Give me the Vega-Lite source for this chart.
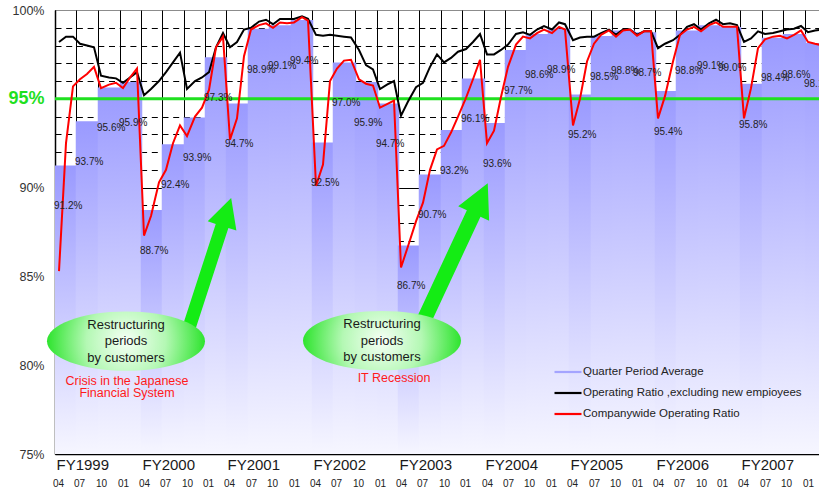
{
  "$schema": "https://vega.github.io/schema/vega-lite/v6.json",
  "width": 764,
  "height": 444,
  "autosize": {"type": "none"},
  "padding": {"left": 55, "top": 10, "right": 0, "bottom": 43},
  "background": "white",
  "config": {
    "view": {"stroke": "#8c8c8c", "strokeWidth": 1},
    "font": "Liberation Sans",
    "text": {"font": "Liberation Sans"},
    "axis": {"labelFont": "Liberation Sans"}
  },
  "datasets": {
    "quarters": [
      {"quarter": "1999-04", "average": 91.2}, {"quarter": "1999-07", "average": 93.7}, {"quarter": "1999-10", "average": 95.6}, {"quarter": "2000-01", "average": 95.9},
      {"quarter": "2000-04", "average": 88.7}, {"quarter": "2000-07", "average": 92.4}, {"quarter": "2000-10", "average": 93.9}, {"quarter": "2001-01", "average": 97.3},
      {"quarter": "2001-04", "average": 94.7}, {"quarter": "2001-07", "average": 98.9}, {"quarter": "2001-10", "average": 99.1}, {"quarter": "2002-01", "average": 99.4},
      {"quarter": "2002-04", "average": 92.5}, {"quarter": "2002-07", "average": 97.0}, {"quarter": "2002-10", "average": 95.9}, {"quarter": "2003-01", "average": 94.7},
      {"quarter": "2003-04", "average": 86.7}, {"quarter": "2003-07", "average": 90.7}, {"quarter": "2003-10", "average": 93.2}, {"quarter": "2004-01", "average": 96.1},
      {"quarter": "2004-04", "average": 93.6}, {"quarter": "2004-07", "average": 97.7}, {"quarter": "2004-10", "average": 98.6}, {"quarter": "2005-01", "average": 98.9},
      {"quarter": "2005-04", "average": 95.2}, {"quarter": "2005-07", "average": 98.5}, {"quarter": "2005-10", "average": 98.8}, {"quarter": "2006-01", "average": 98.7},
      {"quarter": "2006-04", "average": 95.4}, {"quarter": "2006-07", "average": 98.8}, {"quarter": "2006-10", "average": 99.1}, {"quarter": "2007-01", "average": 99.0},
      {"quarter": "2007-04", "average": 95.8}, {"quarter": "2007-07", "average": 98.4}, {"quarter": "2007-10", "average": 98.6}, {"quarter": "2008-01", "average": 98.1}
    ],
    "months": [
      {"month": "1999-04-16", "excluding": 98.2, "companywide": 85.3},
      {"month": "1999-05-16", "excluding": 98.5, "companywide": 92.5},
      {"month": "1999-06-16", "excluding": 98.5, "companywide": 95.7},
      {"month": "1999-07-16", "excluding": 98.1, "companywide": 96.1},
      {"month": "1999-08-16", "excluding": 98.0, "companywide": 96.4},
      {"month": "1999-09-16", "excluding": 97.9, "companywide": 96.8},
      {"month": "1999-10-16", "excluding": 96.3, "companywide": 95.6},
      {"month": "1999-11-16", "excluding": 96.2, "companywide": 95.8},
      {"month": "1999-12-16", "excluding": 96.15, "companywide": 95.9},
      {"month": "2000-01-16", "excluding": 95.9, "companywide": 95.6},
      {"month": "2000-02-15", "excluding": 96.2, "companywide": 96.2},
      {"month": "2000-03-16", "excluding": 96.5, "companywide": 96.7},
      {"month": "2000-04-16", "excluding": 95.2, "companywide": 87.3},
      {"month": "2000-05-16", "excluding": 95.55, "companywide": 88.4},
      {"month": "2000-06-16", "excluding": 96.0, "companywide": 90.3},
      {"month": "2000-07-16", "excluding": 96.5, "companywide": 91.0},
      {"month": "2000-08-16", "excluding": 97.05, "companywide": 92.5},
      {"month": "2000-09-16", "excluding": 97.6, "companywide": 93.5},
      {"month": "2000-10-16", "excluding": 95.55, "companywide": 92.9},
      {"month": "2000-11-16", "excluding": 96.0, "companywide": 94.0},
      {"month": "2000-12-16", "excluding": 96.2, "companywide": 94.5},
      {"month": "2001-01-16", "excluding": 96.5, "companywide": 95.5},
      {"month": "2001-02-15", "excluding": 97.9, "companywide": 97.9},
      {"month": "2001-03-16", "excluding": 98.7, "companywide": 98.5},
      {"month": "2001-04-16", "excluding": 97.9, "companywide": 92.7},
      {"month": "2001-05-16", "excluding": 98.2, "companywide": 93.9},
      {"month": "2001-06-16", "excluding": 98.9, "companywide": 97.4},
      {"month": "2001-07-16", "excluding": 99.0, "companywide": 98.9},
      {"month": "2001-08-16", "excluding": 99.35, "companywide": 99.15},
      {"month": "2001-09-16", "excluding": 99.45, "companywide": 99.25},
      {"month": "2001-10-16", "excluding": 99.2, "companywide": 99.0},
      {"month": "2001-11-16", "excluding": 99.5, "companywide": 99.3},
      {"month": "2001-12-16", "excluding": 99.5, "companywide": 99.25},
      {"month": "2002-01-16", "excluding": 99.5, "companywide": 99.3},
      {"month": "2002-02-15", "excluding": 99.65, "companywide": 99.6},
      {"month": "2002-03-16", "excluding": 99.5, "companywide": 99.4},
      {"month": "2002-04-16", "excluding": 98.6, "companywide": 90.1},
      {"month": "2002-05-16", "excluding": 98.55, "companywide": 91.3},
      {"month": "2002-06-16", "excluding": 98.6, "companywide": 96.0},
      {"month": "2002-07-16", "excluding": 98.55, "companywide": 96.7},
      {"month": "2002-08-16", "excluding": 98.5, "companywide": 97.15},
      {"month": "2002-09-16", "excluding": 98.45, "companywide": 97.2},
      {"month": "2002-10-16", "excluding": 97.75, "companywide": 96.1},
      {"month": "2002-11-16", "excluding": 96.9, "companywide": 95.85},
      {"month": "2002-12-16", "excluding": 96.65, "companywide": 95.75},
      {"month": "2003-01-16", "excluding": 95.55, "companywide": 94.5},
      {"month": "2003-02-15", "excluding": 95.8, "companywide": 94.7},
      {"month": "2003-03-16", "excluding": 96.0, "companywide": 94.9},
      {"month": "2003-04-16", "excluding": 94.05, "companywide": 85.5},
      {"month": "2003-05-16", "excluding": 94.85, "companywide": 86.7},
      {"month": "2003-06-16", "excluding": 95.65, "companywide": 88.1},
      {"month": "2003-07-16", "excluding": 95.9, "companywide": 89.15},
      {"month": "2003-08-16", "excluding": 96.8, "companywide": 91.0},
      {"month": "2003-09-16", "excluding": 97.5, "companywide": 92.15},
      {"month": "2003-10-16", "excluding": 97.05, "companywide": 92.35},
      {"month": "2003-11-16", "excluding": 97.3, "companywide": 93.1},
      {"month": "2003-12-16", "excluding": 97.65, "companywide": 94.0},
      {"month": "2004-01-16", "excluding": 97.8, "companywide": 95.05},
      {"month": "2004-02-15", "excluding": 98.2, "companywide": 96.1},
      {"month": "2004-03-16", "excluding": 98.65, "companywide": 97.2},
      {"month": "2004-04-16", "excluding": 97.5, "companywide": 92.5},
      {"month": "2004-05-16", "excluding": 97.5, "companywide": 93.2},
      {"month": "2004-06-16", "excluding": 97.75, "companywide": 95.1},
      {"month": "2004-07-16", "excluding": 98.05, "companywide": 96.8},
      {"month": "2004-08-16", "excluding": 98.65, "companywide": 98.05},
      {"month": "2004-09-16", "excluding": 98.75, "companywide": 98.5},
      {"month": "2004-10-16", "excluding": 98.6, "companywide": 98.4},
      {"month": "2004-11-16", "excluding": 98.9, "companywide": 98.7},
      {"month": "2004-12-16", "excluding": 99.1, "companywide": 98.9},
      {"month": "2005-01-16", "excluding": 98.9, "companywide": 98.7},
      {"month": "2005-02-15", "excluding": 99.3, "companywide": 99.05},
      {"month": "2005-03-16", "excluding": 99.2, "companywide": 98.9},
      {"month": "2005-04-16", "excluding": 98.3, "companywide": 93.5},
      {"month": "2005-05-16", "excluding": 98.45, "companywide": 95.0},
      {"month": "2005-06-16", "excluding": 98.5, "companywide": 97.1},
      {"month": "2005-07-16", "excluding": 98.5, "companywide": 98.1},
      {"month": "2005-08-16", "excluding": 98.7, "companywide": 98.6},
      {"month": "2005-09-16", "excluding": 98.9, "companywide": 98.85},
      {"month": "2005-10-16", "excluding": 98.6, "companywide": 98.5},
      {"month": "2005-11-16", "excluding": 98.9, "companywide": 98.85},
      {"month": "2005-12-16", "excluding": 98.9, "companywide": 98.9},
      {"month": "2006-01-16", "excluding": 98.6, "companywide": 98.55},
      {"month": "2006-02-15", "excluding": 98.8, "companywide": 98.8},
      {"month": "2006-03-16", "excluding": 98.8, "companywide": 98.8},
      {"month": "2006-04-16", "excluding": 97.85, "companywide": 93.9},
      {"month": "2006-05-16", "excluding": 98.1, "companywide": 95.15},
      {"month": "2006-06-16", "excluding": 98.3, "companywide": 97.1},
      {"month": "2006-07-16", "excluding": 98.6, "companywide": 98.6},
      {"month": "2006-08-16", "excluding": 99.05, "companywide": 98.9},
      {"month": "2006-09-16", "excluding": 99.2, "companywide": 99.05},
      {"month": "2006-10-16", "excluding": 98.9, "companywide": 98.8},
      {"month": "2006-11-16", "excluding": 99.25, "companywide": 99.15},
      {"month": "2006-12-16", "excluding": 99.45, "companywide": 99.3},
      {"month": "2007-01-16", "excluding": 99.2, "companywide": 99.05},
      {"month": "2007-02-15", "excluding": 99.25, "companywide": 99.05},
      {"month": "2007-03-16", "excluding": 99.15, "companywide": 99.05},
      {"month": "2007-04-16", "excluding": 98.2, "companywide": 93.9},
      {"month": "2007-05-16", "excluding": 98.4, "companywide": 95.6},
      {"month": "2007-06-16", "excluding": 98.8, "companywide": 97.85},
      {"month": "2007-07-16", "excluding": 98.65, "companywide": 98.35},
      {"month": "2007-08-16", "excluding": 98.7, "companywide": 98.5},
      {"month": "2007-09-16", "excluding": 98.8, "companywide": 98.55},
      {"month": "2007-10-16", "excluding": 98.9, "companywide": 98.4},
      {"month": "2007-11-16", "excluding": 98.95, "companywide": 98.6},
      {"month": "2007-12-16", "excluding": 99.1, "companywide": 98.85},
      {"month": "2008-01-16", "excluding": 98.75, "companywide": 98.2},
      {"month": "2008-02-15", "excluding": 98.85, "companywide": 98.1},
      {"month": "2008-03-16", "excluding": 98.9, "companywide": 98.0}
    ],
    "episodes": [
      {"cause": "Crisis in the Japanese\nFinancial System", "note": "Restructuring\nperiods\nby customers",
       "bubble_at": "2000-01-27", "bubble_level": 81.35,
       "arrow_at": "2001-01-21", "arrow_level": 85.75,
       "cause_at": "2000-02-02", "cause_level": 78.79},
      {"cause": "IT Recession", "note": "Restructuring\nperiods\nby customers",
       "bubble_at": "2003-01-24", "bubble_level": 81.38,
       "arrow_at": "2003-12-03", "arrow_level": 86.29,
       "cause_at": "2003-03-16", "cause_level": 78.99}
    ]
  },
  "resolve": {"axis": {"x": "independent", "y": "independent"}},
  "layer": [
    {
      "data": {"name": "quarters"},
      "mark": {
        "type": "bar",
        "clip": true,
        "binSpacing": 0,
        "fill": {"gradient": "linear", "x1": 0, "y1": 0, "x2": 0, "y2": 1,
                 "stops": [{"offset": 0, "color": "#9a9aff"}, {"offset": 1, "color": "#f6f6ff"}]},
        "stroke": {"gradient": "linear", "x1": 0, "y1": 0, "x2": 0, "y2": 1,
                   "stops": [{"offset": 0, "color": "#9a9aff"}, {"offset": 1, "color": "#f6f6ff"}]},
        "strokeWidth": 1.5
      },
      "encoding": {
        "x": {
          "field": "quarter", "timeUnit": "utcyearquarter", "type": "temporal", "title": null,
          "scale": {"type": "utc", "round": true, "domain": [{"year": 1999, "month": 4, "date": 1, "utc": true}, {"year": 2008, "month": 3, "date": 1, "utc": true}]},
          "axis": {
            "orient": "bottom",
            "values": [
              {"year": 1999, "month": 4, "date": 1, "utc": true}, {"year": 2000, "month": 4, "date": 1, "utc": true},
              {"year": 2001, "month": 4, "date": 1, "utc": true}, {"year": 2002, "month": 4, "date": 1, "utc": true},
              {"year": 2003, "month": 4, "date": 1, "utc": true}, {"year": 2004, "month": 4, "date": 1, "utc": true},
              {"year": 2005, "month": 4, "date": 1, "utc": true}, {"year": 2006, "month": 4, "date": 1, "utc": true},
              {"year": 2007, "month": 4, "date": 1, "utc": true}
            ],
            "labelExpr": "'FY' + utcFormat(datum.value, '%Y')",
            "labelAlign": "left", "labelBaseline": "top", "labelFontSize": 15, "labelColor": "#1a1a1a",
            "labelPadding": 3, "labelOffset": 1, "labelOverlap": false, "labelFlush": false,
            "ticks": false, "grid": false, "domain": true, "domainColor": "#000000", "domainWidth": 1.5
          }
        },
        "y": {
          "field": "average", "type": "quantitative", "title": null,
          "scale": {"domain": [75, 100], "nice": false, "zero": false},
          "axis": {
            "orient": "left",
            "values": [76, 77, 78, 79, 80, 81, 82, 83, 84, 85, 86, 87, 88, 89, 90, 91, 92, 93, 94, 95, 96, 97, 98, 99],
            "labels": false, "ticks": false, "domain": false,
            "grid": true, "gridColor": "#000000",
            "gridDash": {"condition": {"test": "datum.value % 5 === 0", "value": []}, "value": [6, 4.7]},
            "gridWidth": 1, "gridOpacity": 1
          }
        },
        "y2": {"datum": 75}
      }
    },
    {
      "data": {"values": [{}]},
      "mark": {"type": "rule", "color": "#1fe01f", "strokeWidth": 3},
      "encoding": {"y": {"datum": 95, "axis": null}}
    },
    {
      "data": {"name": "months"},
      "mark": {"type": "line", "clip": true, "strokeWidth": 2},
      "encoding": {
        "x": {
          "field": "month", "type": "temporal", "title": null,
          "axis": {
            "orient": "bottom",
            "tickCount": {"interval": "month", "step": 3},
            "labelExpr": "utcFormat(datum.value, '%m')",
            "labelFontSize": 10, "labelColor": "#222222", "labelAlign": "center", "labelOffset": 3,
            "labelBaseline": "top", "labelPadding": 2, "offset": 22, "labelOverlap": false, "labelFlush": false,
            "domain": false, "ticks": false,
            "grid": true, "gridColor": "#000000", "gridWidth": 1, "gridOpacity": 1
          }
        },
        "y": {
          "field": "excluding", "type": "quantitative", "title": null,
          "axis": {
            "orient": "left",
            "values": [75, 80, 85, 90, 95, 100],
            "labelExpr": "datum.value + '%'",
            "labelFontSize": {"condition": {"test": "datum.value === 95", "value": 18}, "value": 12.5},
            "labelFontWeight": {"condition": {"test": "datum.value === 95", "value": "bold"}, "value": "normal"},
            "labelColor": {"condition": {"test": "datum.value === 95", "value": "#1fe01f"}, "value": "#333333"},
            "labelPadding": 11, "labelOverlap": false, "labelBound": false, "ticks": false, "grid": false,
            "domain": true, "domainColor": "#000000", "domainWidth": 1.5
          }
        },
        "color": {
          "datum": "Operating Ratio ,excluding new empioyees", "type": "nominal",
          "scale": {
            "domain": ["Quarter Period Average", "Operating Ratio ,excluding new empioyees", "Companywide Operating Ratio"],
            "range": ["#a4a4ff", "#000000", "#ff0000"]
          },
          "legend": {
            "orient": "none", "legendX": 498, "legendY": 347, "title": null,
            "symbolType": "stroke", "symbolSize": 729, "symbolStrokeWidth": 2.2,
            "labelFont": "Liberation Sans", "labelFontSize": 11.5, "labelColor": "#222222",
            "labelOffset": 0, "labelLimit": 400, "rowPadding": 0
          }
        }
      }
    },
    {
      "data": {"name": "months"},
      "mark": {"type": "line", "clip": true, "strokeWidth": 2},
      "encoding": {
        "x": {"field": "month", "type": "temporal", "title": null, "axis": null},
        "y": {"field": "companywide", "type": "quantitative", "title": null, "axis": null},
        "color": {"datum": "Companywide Operating Ratio", "type": "nominal"}
      }
    },
    {
      "data": {"name": "quarters"},
      "transform": [{"calculate": "format(datum.average, '.1f') + '%'", "as": "label"}],
      "mark": {"type": "text", "fontSize": 10, "color": "#222222", "baseline": "middle", "align": "left", "dx": -1, "dy": 40},
      "encoding": {
        "x": {"field": "quarter", "timeUnit": "utcyearquarter", "type": "temporal", "title": null, "axis": null},
        "y": {"field": "average", "type": "quantitative", "title": null, "axis": null},
        "text": {"field": "label"}
      }
    },
    {
      "data": {"name": "episodes"},
      "mark": {"type": "point", "filled": true, "opacity": 1, "strokeWidth": 0, "color": "#14ec14",
               "shape": "M0,-1L0.22,-0.57L0.097,-0.57L0.097,1L-0.097,1L-0.097,-0.57L-0.22,-0.57Z"},
      "encoding": {
        "x": {"field": "arrow_at", "type": "temporal", "title": null, "axis": null},
        "y": {"field": "arrow_level", "type": "quantitative", "title": null, "axis": null},
        "size": {"condition": {"test": "datum.cause === 'IT Recession'", "value": 24025}, "value": 18769},
        "angle": {"condition": {"test": "datum.cause === 'IT Recession'", "value": 25}, "value": 18}
      }
    },
    {
      "data": {"name": "episodes"},
      "mark": {"type": "point", "filled": true, "opacity": 1, "strokeWidth": 0, "size": 24964,
               "shape": "M-1,0A1,0.375,0,1,1,1,0A1,0.375,0,1,1,-1,0Z",
               "fill": {"gradient": "radial", "x1": 0.5, "y1": 0.5, "r1": 0, "x2": 0.5, "y2": 0.5, "r2": 0.5,
                        "stops": [{"offset": 0, "color": "#f6fff6"}, {"offset": 0.5, "color": "#b4f8b4"}, {"offset": 1, "color": "#2ee42e"}]}},
      "encoding": {
        "x": {"field": "bubble_at", "type": "temporal", "title": null, "axis": null},
        "y": {"field": "bubble_level", "type": "quantitative", "title": null, "axis": null}
      }
    },
    {
      "data": {"name": "episodes"},
      "mark": {"type": "text", "fontSize": 13, "lineHeight": 16.5, "lineBreak": "\n", "color": "#1a1a1a", "align": "center", "baseline": "middle", "dy": -16.5},
      "encoding": {
        "x": {"field": "bubble_at", "type": "temporal", "title": null, "axis": null},
        "y": {"field": "bubble_level", "type": "quantitative", "title": null, "axis": null},
        "text": {"field": "note"}
      }
    },
    {
      "data": {"name": "episodes"},
      "mark": {"type": "text", "fontSize": 12.5, "lineHeight": 11.5, "lineBreak": "\n", "color": "#ff1a1a", "align": "center", "baseline": "middle"},
      "encoding": {
        "x": {"field": "cause_at", "type": "temporal", "title": null, "axis": null},
        "y": {"field": "cause_level", "type": "quantitative", "title": null, "axis": null},
        "yOffset": {"condition": {"test": "datum.cause === 'IT Recession'", "value": 0}, "value": -5.5},
        "text": {"field": "cause"}
      }
    }
  ]
}
